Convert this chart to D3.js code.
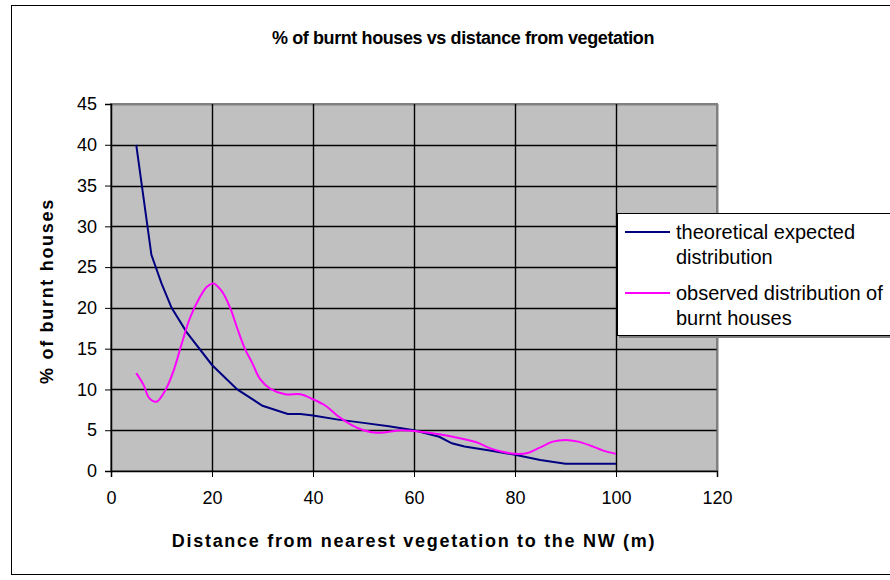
<!DOCTYPE html>
<html><head><meta charset="utf-8">
<script src="https://cdn.jsdelivr.net/npm/d3@7"></script>
<style>body{margin:0;background:#fff}svg{display:block}text{font-family:"Liberation Sans",Arial,sans-serif}</style>
</head><body>
<svg id="c" width="890" height="580"></svg>
<script>
const titleText = "% of burnt houses vs distance from vegetation";
const xTitle = "Distance from nearest vegetation to the NW (m)";
const yTitle = "% of burnt houses";
const xTicks = [0,20,40,60,80,100,120];
const yTicks = [0,5,10,15,20,25,30,35,40,45];
const theoX = [5,8,10,12,15,20,25,30,35,37.5,40,45,50,55,60,65,67.5,70,75,80,85,90,100];
const theoY = [40,26.5,23,20,17,13,10,8,7,7,6.8,6.3,5.9,5.5,5,4.2,3.4,3.0,2.5,2.0,1.35,0.9,0.9];
const obsX = [5,6.5,7.5,9,11,12.5,14,15.6,17.5,19,20.3,22,23.6,25,26.5,28,29.5,31.5,34.5,37.5,40,42.5,45,47.5,50,52.5,55,57.5,60,65,70,72.5,75,77.5,80,82.5,85,87.5,90,92.5,95,97.5,100];
const obsY = [12,10.5,9,8.5,10.2,12.5,15.6,18.7,21.2,22.6,23,22,20,17.5,15,13.2,11.3,10.1,9.4,9.4,8.8,8,6.7,5.7,5,4.7,4.8,5,4.9,4.5,3.9,3.5,2.8,2.35,2.1,2.2,2.9,3.6,3.8,3.6,3.1,2.5,2.1];
const seriesNames = ["theoretical expected|distribution","observed distribution of|burnt houses"];
const seriesColors = ["#000080","#FF00FF"];

const svg = d3.select("#c");
const L=111,R=717,T=104,B=471;
const x = d3.scaleLinear().domain([0,120]).range([L,R]);
const y = d3.scaleLinear().domain([0,45]).range([B,T]);

// chart border
svg.append("rect").attr("x",11.5).attr("y",5.5).attr("width",900).attr("height",569).attr("fill","#fff").attr("stroke","#000").attr("stroke-width",1);

// plot area
svg.append("rect").attr("x",L).attr("y",T).attr("width",R-L).attr("height",B-T).attr("fill","#C0C0C0").attr("stroke","#808080").attr("stroke-width",2);

// gridlines
svg.append("g").selectAll("line").data(yTicks.filter(d=>d>0)).join("line")
  .attr("x1",L).attr("x2",R).attr("y1",d=>Math.round(y(d))+0.5).attr("y2",d=>Math.round(y(d))+0.5)
  .attr("stroke",d=>d===45?"#808080":"#000").attr("stroke-width",d=>d===45?2:1.4);
svg.append("g").selectAll("line").data(xTicks.filter(d=>d>0)).join("line")
  .attr("y1",T).attr("y2",B).attr("x1",d=>Math.round(x(d))+0.5).attr("x2",d=>Math.round(x(d))+0.5)
  .attr("stroke",d=>d===120?"#808080":"#000").attr("stroke-width",d=>d===120?2:1.4);

// axes
const xa = svg.append("g").attr("transform",`translate(0,${B})`).call(d3.axisBottom(x).tickValues(xTicks).tickSize(6).tickPadding(14));
const ya = svg.append("g").attr("transform",`translate(${L},0)`).call(d3.axisLeft(y).tickValues(yTicks).tickSize(6).tickPadding(8));
[xa,ya].forEach(a=>{a.selectAll("path").attr("stroke","#000").attr("stroke-width",1.5);
  a.selectAll("line").attr("stroke","#000");
  a.selectAll("text").attr("font-size",18).attr("fill","#000").attr("font-family","Liberation Sans, Arial, sans-serif");});

// lines
const line = d3.line().x(d=>x(d[0])).y(d=>y(d[1]));
svg.append("path").datum(theoX.map((v,i)=>[v,theoY[i]])).attr("d",line.curve(d3.curveLinear))
  .attr("fill","none").attr("stroke",seriesColors[0]).attr("stroke-width",2);
svg.append("path").datum(obsX.map((v,i)=>[v,obsY[i]])).attr("d",d3.line().x(d=>x(d[0])).y(d=>y(d[1])).curve(d3.curveCatmullRom.alpha(0.5)))
  .attr("fill","none").attr("stroke",seriesColors[1]).attr("stroke-width",2);

// titles
svg.append("text").attr("x",463).attr("y",44).attr("text-anchor","middle").attr("font-weight","bold").attr("font-size",18).attr("letter-spacing",-0.4).text(titleText);
svg.append("text").attr("x",414).attr("y",547).attr("text-anchor","middle").attr("font-weight","bold").attr("font-size",18).attr("letter-spacing",1.7).text(xTitle);
svg.append("text").attr("transform","translate(53,291) rotate(-90)").attr("text-anchor","middle").attr("font-weight","bold").attr("font-size",18).attr("letter-spacing",1.7).text(yTitle);

// legend
svg.append("rect").attr("x",619).attr("y",215).attr("width",300).attr("height",123).attr("fill","#808080");
svg.append("rect").attr("x",617.5).attr("y",213.5).attr("width",300).attr("height",122).attr("fill","#fff").attr("stroke","#000").attr("stroke-width",1);
const lg = svg.append("g");
const ly = [232,293];
seriesNames.forEach((n,i)=>{
  lg.append("line").attr("x1",625).attr("x2",670).attr("y1",ly[i]).attr("y2",ly[i]).attr("stroke",seriesColors[i]).attr("stroke-width",2);
  n.split("|").forEach((s,j)=>{
    lg.append("text").attr("x",676).attr("y",ly[i]+7+j*25).attr("font-size",20).attr("fill","#000").text(s);
  });
});
</script>
</body></html>
